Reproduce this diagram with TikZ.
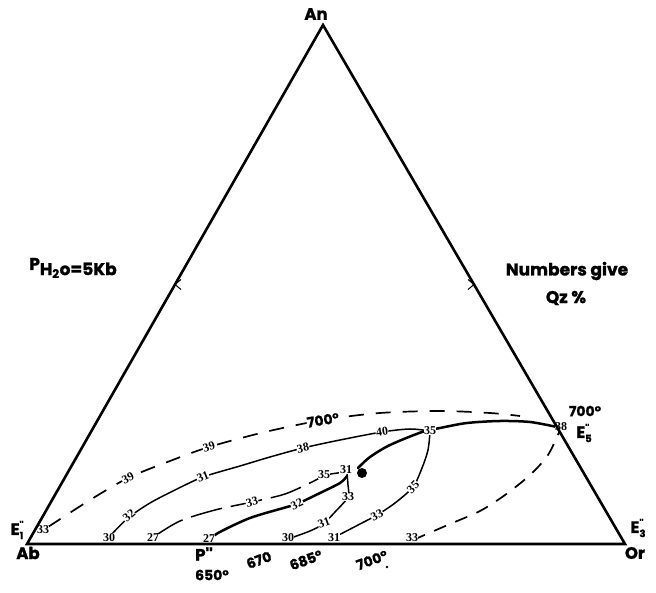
\documentclass[tikz,border=0pt]{standalone}
\usepackage{fontspec}
\setmainfont{Liberation Serif}
\newfontfamily\sansfont{Poppins}[FakeBold=1.3]
\usetikzlibrary{positioning,calc}

% end-point names with double prime and index
\newcommand{\Epp}[1]{E\makebox[0pt][l]{\raisebox{0.75ex}{\fontsize{9}{9}\selectfont''}}\raisebox{-0.45ex}{\fontsize{10}{10}\selectfont #1}}

\begin{document}
\begin{tikzpicture}[x=1pt, y=-1pt,
  every node/.style={inner sep=1pt},
  num/.style={font=\bfseries\fontsize{12}{12}\selectfont, fill=white, inner sep=0.4pt},
  basenum/.style={num, anchor=south},
  txt/.style={font=\sansfont\bfseries\fontsize{14}{14}\selectfont},
  note/.style={font=\sansfont\bfseries\fontsize{17}{17}\selectfont},
  vtx/.style={font=\sansfont\bfseries\fontsize{16.5}{16.5}\selectfont},
  side/.style={line width=2.6pt, line join=miter},
  cotectic/.style={line width=2.5pt, line cap=round},
  iso/.style={line width=1.5pt},
  isodash/.style={line width=1.7pt, dash pattern=on 15pt off 12pt}]
  \useasboundingbox (0,0) rectangle (656,593);

  % corners of the triangle
  \coordinate (An) at (323,25);
  \coordinate (Ab) at (27,544);
  \coordinate (Or) at (625,544);

  % 700 degree isotherm
  \draw[isodash] plot[smooth] coordinates {(48,527) (90,500) (128,478) (170,461) (209,447) (265,432) (323,420) (380,413) (440,411) (490,413) (520,416)};
  % thin curves
  \draw[iso] plot[smooth] coordinates {(110,536) (128,518) (150,503) (175,490) (203,477) (240,466) (270,457) (303,448) (340,440) (382,432) (410,429) (430,431)};
  \draw[iso, dash pattern=on 32pt off 9pt] plot[smooth] coordinates {(155,536) (180,521) (215,510) (252,502) (285,494) (312,482) (326,475) (346,472)};
  \draw[iso] plot[smooth] coordinates {(288,539) (310,531) (323,524) (335,512) (348,497) (348,485) (347,474)};
  \draw[iso] plot[smooth] coordinates {(333,538) (360,524) (377,515) (395,503) (413,487) (422,468) (428,450) (430,432)};
  \draw[isodash, dash pattern=on 13pt off 10pt] plot[smooth] coordinates {(413,540) (450,524) (480,511) (505,495) (530,475) (548,455) (560,430)};
  % field boundaries
  \draw[cotectic] plot[smooth] coordinates {(208,541) (218,533) (250,518) (287,507) (297,504) (320,493) (340,483) (347,476)};
  \draw[cotectic] plot[smooth] coordinates {(358,468) (370,457) (390,445) (422,432) (440,428) (467,423) (500,421) (530,422) (557,427)};
  \fill (362,473) circle (5pt);

  % Qz values on the curves
  \node[num] (q33E) at (43,530) {33};
  \node[num, rotate=26] (q39a) at (128,478) {39};
  \node[num, rotate=17] (q39b) at (209,447) {39};
  \node[txt, fill=white, inner sep=0.5pt, rotate=9] (t700A) at (323,420) {700\textdegree};
  \node[num, rotate=40] (q32a) at (129,516) {32};
  \node[num, rotate=22] (q31a) at (203,477) {31};
  \node[num, rotate=12] (q38a) at (303,448) {38};
  \node[num, rotate=8] (q40) at (382,432) {40};
  \node[num] (q35J) at (430,431) {35};
  \node[num, rotate=13] (q33a) at (252,502) {33};
  \node[num] (q35a) at (324,475) {35};
  \node[num] (q31J) at (346,470) {31};
  \node[num, rotate=25] (q32b) at (297,504) {32};
  \node[num] (q33b) at (348,497) {33};
  \node[num, rotate=20] (q31b) at (324,523) {31};
  \node[num, rotate=27] (q33c) at (377,515) {33};
  \node[num, rotate=45] (q35b) at (413,487) {35};
  \node[num] (q38E) at (561,427) {38};
  % Qz values on the Ab--Or side
  \node[basenum] (b30a) at (109,542.5) {30};
  \node[basenum] (b27a) at (153,542.5) {27};
  \node[basenum] (b27P) at (209,543) {27};
  \node[basenum] (b30b) at (288,542.5) {30};
  \node[basenum] (b31) at (334,542.5) {31};
  \node[basenum] (b33) at (412,542.5) {33};

  % triangle with direction marks
  \draw[side] (An) -- (Or) -- (Ab) -- cycle;
  \coordinate (mL) at ($(Ab)!0.5!(An)$);
  \coordinate (mR) at ($(Or)!0.5!(An)$);
  \draw[line width=1pt] (mL) ++(6,-5) -- (mL) -- ++(6,5);
  \draw[line width=1pt] (mR) ++(-6,-5) -- (mR) -- ++(-6,5);

  % corner and point labels
  \node[vtx] (lAn) at (316,14) {An};
  \node[vtx] (lAb) at (28,553) {Ab};
  \node[vtx] (lOr) at (635,553) {Or};
  \node[vtx] (lE1) at (17,530) {\Epp{1}};
  \node[vtx] (lE3) at (638,528) {\Epp{3}};
  \node[vtx] (lE5) at (584,433) {\Epp{5}};
  \node[vtx] (lP) at (204,554) {P''};
  \node[txt] (t700E) at (585,411) {700\textdegree};
  \node[txt] (t650) at (212,575) {650\textdegree};
  \node[txt, rotate=20] (t670) at (259,560) {670};
  \node[txt, rotate=20] (t685) at (306,560) {685\textdegree};
  \node[txt, rotate=20] (t700B) at (372,560) {700\textdegree};
  \fill (387,567) circle (1.3pt);

  % notes
  \node[note] (tP) at (73,268) {P\raisebox{-0.55ex}{H\textsubscript{2}o=5Kb}};
  \node[note] (tNum) at (567,271) {Numbers give};
  \node[note] (tQz) at (566,298) {Qz \%};
\end{tikzpicture}
\end{document}
